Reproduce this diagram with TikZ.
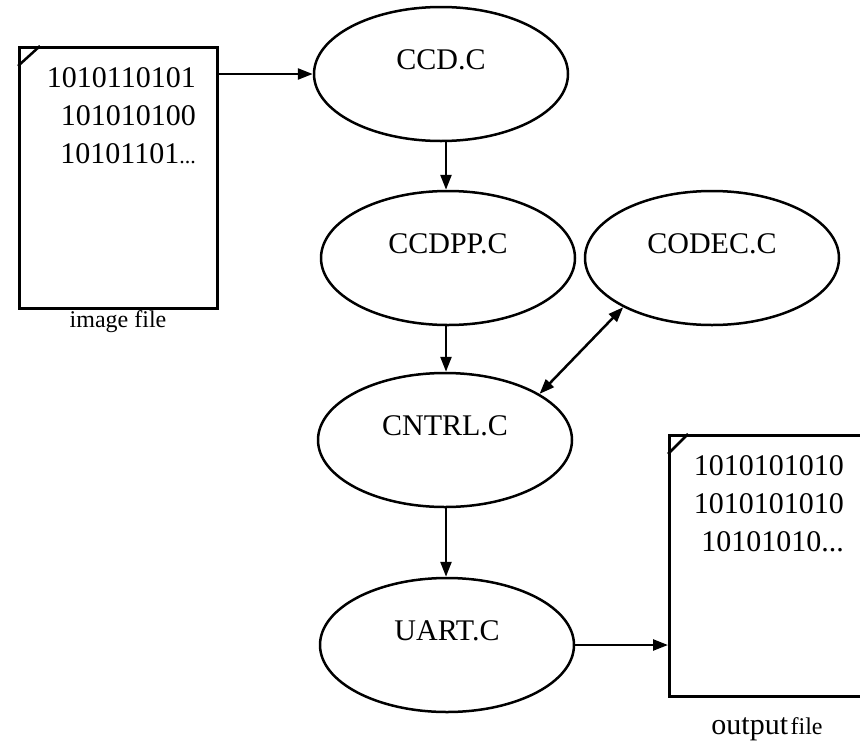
\documentclass[tikz,border=0pt]{standalone}
\usepackage{fontspec}
\setmainfont{Liberation Serif}
\usetikzlibrary{shapes.geometric,arrows.meta,calc}
\begin{document}
\begin{tikzpicture}[x=1pt,y=-1pt,
  lw/.style={line width=2.5pt},
  proc/.style={ellipse,draw,lw,minimum width=254pt,minimum height=134pt,inner sep=0pt,
     font=\fontsize{30}{36}\selectfont,text height=22pt,text depth=32pt},
  docbox/.style={draw,lw,rectangle,minimum width=198pt,minimum height=261pt,inner sep=0pt,anchor=north west},
  bits/.style={font=\fontsize{30}{38}\selectfont,align=right,inner sep=0pt,anchor=north east},
  lbl/.style={inner sep=0pt,anchor=base},
  arr/.style={lw,-{Triangle[length=15pt,width=11pt]}},
  darr/.style={lw,{Triangle[length=15pt,width=11pt]}-{Triangle[length=15pt,width=11pt]}}
]
\useasboundingbox (0,0) rectangle (860,742);
\clip (0,0) rectangle (860,742);

% input document
\node[docbox] (imgdoc) at (18,46) {};
\draw[lw] ($(imgdoc.north west)+(0,20)$) -- ($(imgdoc.north west)+(22,0)$);
\node[bits] (imgbits) at (196,67) {1010110101\\101010100\\10101101{\fontsize{22}{26}\selectfont...}};
\node[lbl,font=\fontsize{24}{28}\selectfont] (imglbl) at (118,327) {image file};

% processes
\node[proc] (ccd) at (441,74) {CCD.C};
\node[proc] (ccdpp) at (448,258) {CCDPP.C};
\node[proc] (codec) at (712,258) {CODEC.C};
\node[proc] (cntrl) at (445,440) {CNTRL.C};
\node[proc] (uart) at (447,645) {UART.C};

% output document
\node[docbox] (outdoc) at (668,434) {};
\draw[lw] ($(outdoc.north west)+(0,20)$) -- ($(outdoc.north west)+(20,0)$);
\node[bits] (outbits) at (844,455) {1010101010\\1010101010\\10101010...};
\node[lbl] (outlbl) at (767,734) {{\fontsize{30}{36}\selectfont output} {\fontsize{24}{28}\selectfont file}};

% connectors
\coordinate (col) at (446,0);
\draw[arr] (imgdoc.east |- ccd.west) -- (ccd.west);
\draw[arr] (ccd.south -| col) -- (ccdpp.north -| col);
\draw[arr] (ccdpp.south -| col) -- (cntrl.north -| col);
\draw[arr] (cntrl.south -| col) -- (uart.north -| col);
\draw[arr] (uart.east) -- (uart.east -| outdoc.west);
\draw[darr] (cntrl.26) -- (codec.209);
\end{tikzpicture}
\end{document}
